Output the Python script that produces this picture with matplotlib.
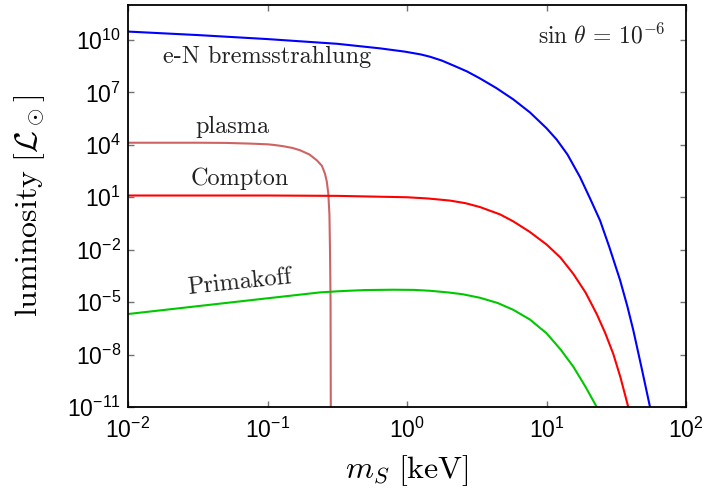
import math
import numpy as np
import matplotlib
matplotlib.use("Agg")
import matplotlib.pyplot as plt
from matplotlib.ticker import FixedLocator, FuncFormatter, NullLocator

# log10 of scalar mass (keV) and log10 of luminosity (solar units) per channel
log_mass_brems = [-2.0, -1.5, -1.0, -0.5, -0.194, -0.014, 0.1, 0.165, 0.25, 0.344, 0.43,
                  0.523, 0.64, 0.762, 0.882, 1.0, 1.073, 1.15, 1.24, 1.31, 1.384, 1.45,
                  1.527, 1.58, 1.622, 1.68, 1.742, 1.77]
log_lum_brems = [10.48, 10.28, 10.05, 9.78, 9.52, 9.33, 9.17, 9.04, 8.82, 8.50, 8.20,
                 7.80, 7.25, 6.60, 5.85, 4.95, 4.30, 3.45, 2.16, 0.97, -0.33, -1.84,
                 -3.73, -5.25, -6.60, -8.70, -11.0, -12.0]

log_mass_plasma = [-2.0, -1.5, -1.3, -1.125, -1.0, -0.95, -0.887, -0.82, -0.767, -0.7,
                   -0.647, -0.61, -0.588, -0.575, -0.564, -0.556, -0.552, -0.548, -0.546]
log_lum_plasma = [4.12, 4.12, 4.11, 4.07, 4.03, 3.99, 3.92, 3.82, 3.69, 3.45,
                  3.12, 2.80, 2.35, 1.90, 1.20, 0.0, -2.0, -5.0, -12.0]

log_mass_compton = [-2.0, -1.0, -0.5, 0.0, 0.15, 0.308, 0.42, 0.523, 0.667, 0.762, 0.88,
                    1.0, 1.1, 1.192, 1.28, 1.36, 1.42, 1.479, 1.53, 1.586, 1.62]
log_lum_compton = [1.10, 1.10, 1.08, 1.00, 0.93, 0.81, 0.66, 0.44, 0.02, -0.38, -0.98,
                   -1.70, -2.45, -3.38, -4.45, -5.68, -6.75, -7.97, -9.30, -11.0, -12.0]

log_mass_primakoff = [-2.0, -1.5, -1.0, -0.62, -0.45, -0.3, -0.1, 0.05, 0.165, 0.3, 0.4,
                      0.523, 0.65, 0.762, 0.882, 1.0, 1.1, 1.192, 1.28, 1.36, 1.40]
log_lum_primakoff = [-5.68, -5.23, -4.78, -4.44, -4.36, -4.31, -4.29, -4.30, -4.35, -4.45, -4.55,
                     -4.75, -5.05, -5.44, -6.00, -6.78, -7.70, -8.69, -9.85, -11.0, -12.0]

x_ticks = [1e-2, 1e-1, 1e0, 1e1, 1e2]
y_ticks = [1e-11, 1e-8, 1e-5, 1e-2, 1e1, 1e4, 1e7, 1e10]

plt.rcParams["font.family"] = "Liberation Sans"
plt.rcParams["mathtext.fontset"] = "cm"

fig = plt.figure(figsize=(7.08, 4.93), dpi=100)
ax = fig.add_axes([128 / 708, 86 / 493, 558 / 708, 402 / 493])
ax.set_xscale("log")
ax.set_yscale("log")

curves = [
    (log_mass_brems, log_lum_brems, "#0000ff"),
    (log_mass_plasma, log_lum_plasma, "#cd6464"),
    (log_mass_compton, log_lum_compton, "#ff0000"),
    (log_mass_primakoff, log_lum_primakoff, "#00c800"),
]
for lm, ll, col in curves:
    ax.plot(np.power(10.0, lm), np.power(10.0, ll), color=col, lw=1.5)

ax.set_xlim(1e-2, 1e2)
ax.set_ylim(1e-11, 1e12)

sci = FuncFormatter(lambda v, pos: r"$\mathdefault{10^{%d}}$" % round(math.log10(v)))
ax.xaxis.set_major_locator(FixedLocator(x_ticks))
ax.yaxis.set_major_locator(FixedLocator(y_ticks))
ax.xaxis.set_major_formatter(sci)
ax.yaxis.set_major_formatter(sci)
ax.xaxis.set_minor_locator(NullLocator())
ax.yaxis.set_minor_locator(NullLocator())
ax.tick_params(which="major", direction="in", length=4, width=1, color="0.45",
               top=True, right=True, labelsize=16.5, pad=5)
ax.tick_params(axis="x", pad=7.5)
for sp in ax.spines.values():
    sp.set_linewidth(1.3)
    sp.set_color("black")

label_kw = dict(transform=ax.transAxes, fontfamily="cmr10", fontsize=17.5, color="#222222")
ax.text(0.0627, 0.856, "e-N bremsstrahlung", ha="left", va="baseline", **label_kw)
ax.text(0.120, 0.682, "plasma", ha="left", va="baseline", **label_kw)
ax.text(0.112, 0.552, "Compton", ha="left", va="baseline", **label_kw)
ax.text(0.1075, 0.281, "Primakoff", ha="left", va="baseline", rotation=6,
        rotation_mode="anchor", **label_kw)
ax.text(0.9636, 0.905, r"$\sin\,\theta\,=\,10^{-6}$", ha="right", va="baseline",
        transform=ax.transAxes, fontsize=17, math_fontfamily="cm", color="#222222")

ax.set_xlabel(r"$m_S\ [\mathrm{keV}]$", fontsize=23, math_fontfamily="cm")
ax.set_ylabel(r"$\mathrm{luminosity}\ [\mathcal{L}_\odot]$", fontsize=23, math_fontfamily="cm")
ax.xaxis.set_label_coords(0.5, -0.114)
ax.yaxis.set_label_coords(-0.145, 0.5)

fig.savefig("out.png", dpi=100)
